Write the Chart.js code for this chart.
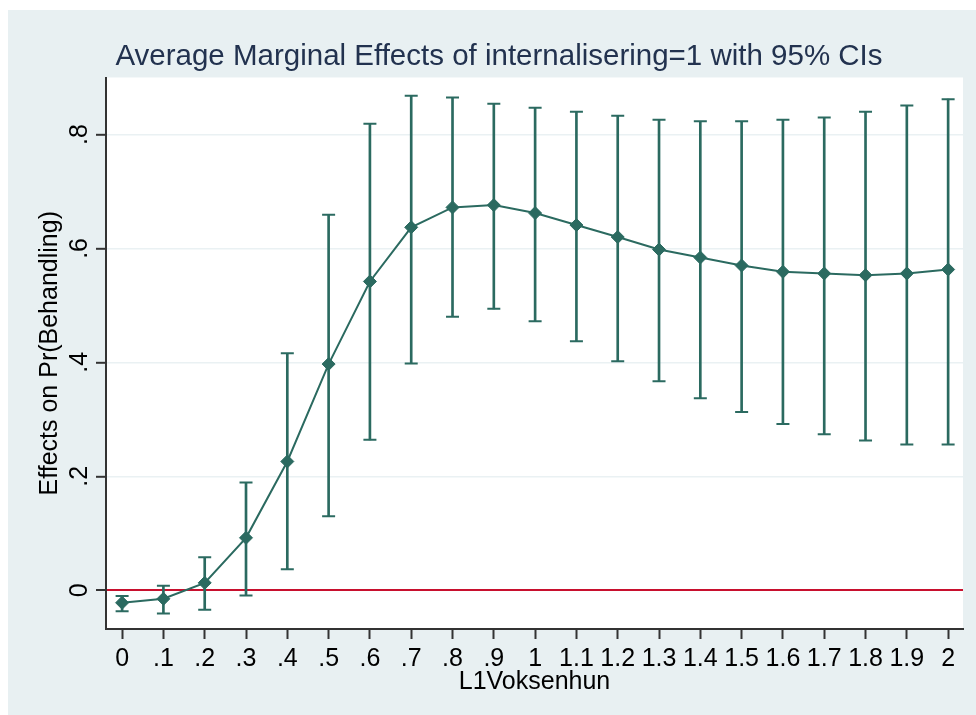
<!DOCTYPE html>
<html>
<head>
<meta charset="utf-8">
<script src="https://cdn.jsdelivr.net/npm/chart.js@4"></script>
<style>
    html, body { margin: 0; padding: 0; background: #e8f0f2; overflow: hidden; }
    #topStrip { position: fixed; left: 0; top: 0; right: 0; height: 10px; background: #ffffff; }
    #leftStrip { position: fixed; left: 0; top: 0; bottom: 0; width: 8px; background: #ffffff; }
    #panel { position: absolute; left: 8px; top: 10px; width: 968px; height: 705px; }
    #myChart { display: block; }
</style>
</head>
<body>
<div id="topStrip"></div>
<div id="leftStrip"></div>
<div id="panel"><canvas id="myChart" width="968" height="705"></canvas></div>
<script>
// values
const xValues = [0, 0.1, 0.2, 0.3, 0.4, 0.5, 0.6, 0.7, 0.8, 0.9, 1.0, 1.1, 1.2, 1.3, 1.4, 1.5, 1.6, 1.7, 1.8, 1.9, 2.0];
const xTickLabels = ['0', '.1', '.2', '.3', '.4', '.5', '.6', '.7', '.8', '.9', '1', '1.1', '1.2', '1.3', '1.4', '1.5', '1.6', '1.7', '1.8', '1.9', '2'];
const effects = [-0.022, -0.015, 0.013, 0.092, 0.226, 0.397, 0.542, 0.637, 0.672, 0.676, 0.662, 0.641, 0.620, 0.598, 0.584, 0.570, 0.559, 0.556, 0.553, 0.556, 0.563];
const ciUpper = [-0.010, 0.008, 0.058, 0.189, 0.416, 0.659, 0.819, 0.868, 0.865, 0.854, 0.847, 0.840, 0.833, 0.826, 0.823, 0.823, 0.826, 0.830, 0.840, 0.851, 0.862];
const ciLower = [-0.037, -0.041, -0.034, -0.009, 0.037, 0.130, 0.264, 0.398, 0.480, 0.494, 0.472, 0.437, 0.402, 0.367, 0.337, 0.313, 0.292, 0.274, 0.263, 0.256, 0.256];
const yTickValues = [0, 0.2, 0.4, 0.6, 0.8];
const yTickLabels = ['0', '.2', '.4', '.6', '.8'];

const teal = '#2b6a60';
const axisColor = '#333333';
const fontFamily = "'Liberation Sans', Arial, sans-serif";

// white plot region
const plotBackground = {
    id: 'plotBackground',
    beforeDraw(chart) {
        const a = chart.chartArea;
        const c = chart.ctx;
        c.save();
        c.fillStyle = '#ffffff';
        c.fillRect(a.left, a.top, a.right - a.left, a.bottom - a.top);
        c.restore();
    }
};

const ctx = document.getElementById('myChart').getContext('2d');
new Chart(ctx, {
    type: 'scatter',
    data: {
        datasets: [{
            type: 'line',
            label: 'Effect',
            data: xValues.map((x, i) => ({ x: x, y: effects[i] })),
            borderColor: teal,
            borderWidth: 2,
            backgroundColor: teal,
            pointStyle: 'rectRot',
            pointRadius: 6.5,
            pointBorderWidth: 1,
            tension: 0,
            fill: false
        }, {
            type: 'scatter',
            label: 'Upper',
            data: xValues.map((x, i) => ({ x: x, y: ciUpper[i] })),
            pointStyle: 'line',
            pointRadius: 6.5,
            borderColor: teal,
            borderWidth: 2
        }, {
            type: 'scatter',
            label: 'Lower',
            data: xValues.map((x, i) => ({ x: x, y: ciLower[i] })),
            pointStyle: 'line',
            pointRadius: 6.5,
            borderColor: teal,
            borderWidth: 2
        }, {
            type: 'bar',
            label: 'CI',
            data: xValues.map((x, i) => ({ x: x, y: [ciLower[i], ciUpper[i]] })),
            backgroundColor: teal,
            borderWidth: 0,
            barThickness: 2,
            grouped: false
        }]
    },
    options: {
        responsive: false,
        animation: false,
        events: [],
        layout: {
            padding: { left: 27, right: 13, top: 0, bottom: 20 }
        },
        plugins: {
            legend: { display: false },
            tooltip: { enabled: false },
            title: {
                display: true,
                text: 'Average Marginal Effects of internalisering=1 with 95% CIs',
                color: '#22324f',
                font: { family: fontFamily, size: 29.5, weight: 'normal', lineHeight: 1 },
                padding: { top: 32, bottom: 6 }
            }
        },
        scales: {
            x: {
                type: 'linear',
                min: -0.039,
                max: 2.036,
                offset: false,
                afterBuildTicks: function (scale) {
                    scale.ticks = xValues.map(v => ({ value: v }));
                },
                afterFit: function (scale) {
                    scale.height = 66;
                },
                ticks: {
                    autoSkip: false,
                    maxRotation: 0,
                    minRotation: 0,
                    padding: 8,
                    color: '#000000',
                    font: { family: fontFamily, size: 25, lineHeight: 1 },
                    callback: function (value, index) {
                        return xTickLabels[index];
                    }
                },
                grid: {
                    offset: false,
                    drawOnChartArea: false,
                    drawTicks: true,
                    tickLength: 10,
                    tickColor: axisColor,
                    tickWidth: 2
                },
                border: { display: true, color: axisColor, width: 2 },
                title: {
                    display: true,
                    text: 'L1Voksenhun',
                    color: '#000000',
                    font: { family: fontFamily, size: 25, lineHeight: 1 },
                    padding: { top: 0, bottom: 0 }
                }
            },
            y: {
                type: 'linear',
                min: -0.068,
                max: 0.9,
                beginAtZero: false,
                afterBuildTicks: function (scale) {
                    scale.ticks = yTickValues.map(v => ({ value: v }));
                },
                afterFit: function (scale) {
                    scale.width = 71;
                },
                ticks: {
                    autoSkip: false,
                    minRotation: 90,
                    maxRotation: 90,
                    crossAlign: 'center',
                    padding: 5,
                    color: '#000000',
                    font: { family: fontFamily, size: 25, lineHeight: 1 },
                    callback: function (value, index) {
                        return yTickLabels[index];
                    }
                },
                grid: {
                    color: function (c) {
                        return c.tick && c.tick.value === 0 ? '#c8102e' : '#eaf1f3';
                    },
                    lineWidth: function (c) {
                        return c.tick && c.tick.value === 0 ? 2 : 1.6;
                    },
                    drawTicks: true,
                    tickLength: 10,
                    tickColor: axisColor,
                    tickWidth: 2
                },
                border: { display: true, color: axisColor, width: 2 },
                title: {
                    display: true,
                    text: 'Effects on Pr(Behandling)',
                    color: '#000000',
                    font: { family: fontFamily, size: 25, lineHeight: 1 },
                    padding: { top: 3, bottom: 0 }
                }
            }
        }
    },
    plugins: [plotBackground]
});
</script>
</body>
</html>
